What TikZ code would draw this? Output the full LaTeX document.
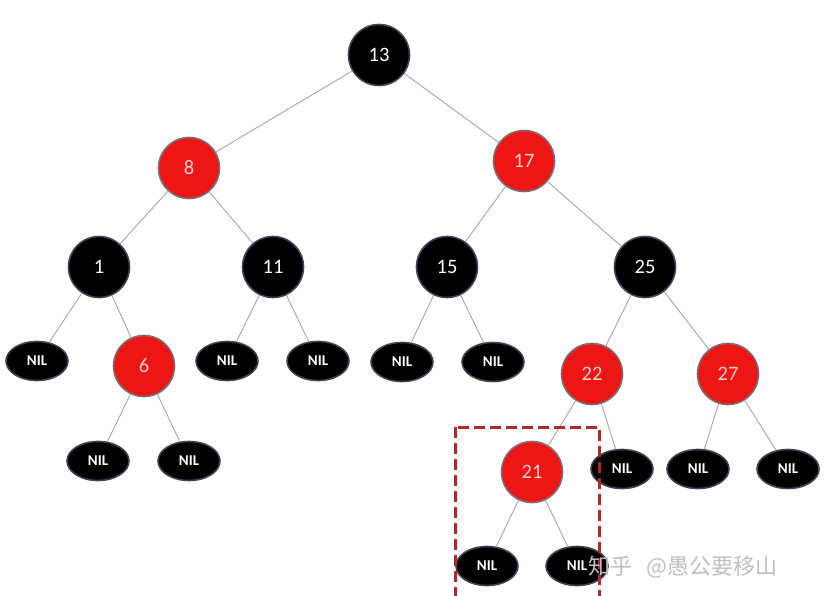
\documentclass[tikz,border=0pt]{standalone}
\usepackage{fontspec}
\setmainfont{Carlito}
\newfontfamily\cjk{Noto Sans CJK SC}
\usetikzlibrary{shapes.geometric}
\definecolor{rbred}{HTML}{EE1515}
\definecolor{rdr}{HTML}{7A6E72}
\definecolor{bdr}{HTML}{3C4456}
\definecolor{rtext}{HTML}{FFD2CC}
\definecolor{edgegray}{HTML}{A4A6AA}
\definecolor{dashred}{HTML}{B5262C}
\begin{document}
\begin{tikzpicture}[x=1pt,y=-1pt,
  bnode/.style={circle,fill=black,draw=bdr,line width=1.6pt,minimum size=61pt,inner sep=0pt,text=white,font=\fontsize{20.5}{20.5}\selectfont},
  rnode/.style={circle,fill=rbred,draw=rdr,line width=1.6pt,minimum size=61pt,inner sep=0pt,text=rtext,font=\fontsize{20.5}{20.5}\selectfont},
  nilnode/.style={ellipse,fill=black,draw=bdr,line width=1.6pt,minimum width=62pt,minimum height=39pt,inner sep=0pt,text=white,font=\bfseries\fontsize{15}{15}\selectfont},
  tedge/.style={draw=edgegray,line width=0.9pt}]
\useasboundingbox (0,0) rectangle (824,596);
\fill[white] (0,0) rectangle (824,596);
% level 0
\node[bnode] (n13) at (379,55) {13};
% level 1
\node[rnode] (n8) at (189,168) {8};
\node[rnode] (n17) at (524,161) {17};
% level 2
\node[bnode] (n1) at (99,267) {1};
\node[bnode] (n11) at (273,267) {11};
\node[bnode] (n15) at (447,267) {15};
\node[bnode] (n25) at (645,267) {25};
% level 3
\node[nilnode] (nil1) at (37,361) {NIL};
\node[rnode] (n6) at (144,366) {6};
\node[nilnode] (nil2) at (227,361) {NIL};
\node[nilnode] (nil3) at (318,361) {NIL};
\node[nilnode] (nil4) at (402,362) {NIL};
\node[nilnode] (nil5) at (493,362) {NIL};
\node[rnode] (n22) at (592,374) {22};
\node[rnode] (n27) at (728,374) {27};
% level 4
\node[nilnode] (nil6) at (98,461) {NIL};
\node[nilnode] (nil7) at (189,461) {NIL};
\node[rnode] (n21) at (532,472) {21};
\node[nilnode] (nil8) at (622,469) {NIL};
\node[nilnode] (nil9) at (698,469) {NIL};
\node[nilnode] (nil10) at (788,469) {NIL};
% level 5
\node[nilnode] (nil11) at (487,566) {NIL};
\node[nilnode] (nil12) at (577,566) {NIL};
% edges
\draw[tedge] (n13) -- (n8);
\draw[tedge] (n13) -- (n17);
\draw[tedge] (n8) -- (n1);
\draw[tedge] (n8) -- (n11);
\draw[tedge] (n17) -- (n15);
\draw[tedge] (n17) -- (n25);
\draw[tedge] (n1) -- (nil1);
\draw[tedge] (n1) -- (n6);
\draw[tedge] (n11) -- (nil2);
\draw[tedge] (n11) -- (nil3);
\draw[tedge] (n15) -- (nil4);
\draw[tedge] (n15) -- (nil5);
\draw[tedge] (n25) -- (n22);
\draw[tedge] (n25) -- (n27);
\draw[tedge] (n6) -- (nil6);
\draw[tedge] (n6) -- (nil7);
\draw[tedge] (n22) -- (n21);
\draw[tedge] (n22) -- (nil8);
\draw[tedge] (n27) -- (nil9);
\draw[tedge] (n27) -- (nil10);
\draw[tedge] (n21) -- (nil11);
\draw[tedge] (n21) -- (nil12);
% highlight box
\begin{scope}
\clip (0,0) rectangle (824,596);
\draw[dashred,line width=3pt,dash pattern=on 11pt off 5pt] (455,427) rectangle (599,610);
\end{scope}
% watermark
\node[anchor=west,text=gray!50,font=\cjk\fontsize{22}{22}\selectfont,inner sep=0pt] (wm) at (588,567) {知乎\hspace{14pt}@愚公要移山};
\end{tikzpicture}
\end{document}
